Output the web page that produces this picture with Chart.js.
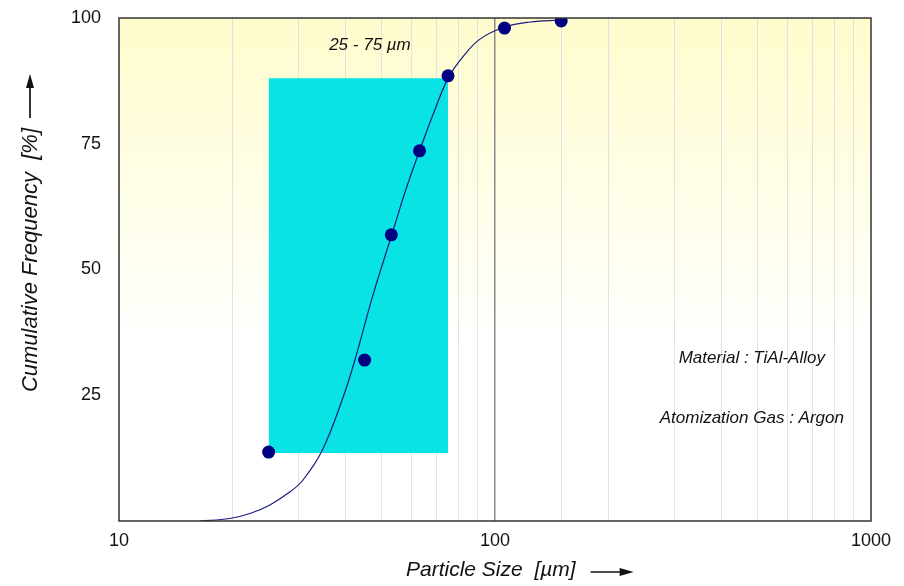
<!DOCTYPE html>
<html>
<head>
<meta charset="utf-8">
<script src="https://cdn.jsdelivr.net/npm/chart.js@4.4.1/dist/chart.umd.min.js"></script>
<style>
  html, body { margin: 0; padding: 0; background: #fff; }
  #wrap { width: 904px; height: 586px; }
</style>
</head>
<body>
<div id="wrap"><canvas id="psd" width="904" height="586"></canvas></div>
<script>
// measured points (particle size in um, cumulative %)
var sizeMeasured = [25, 45, 53, 63, 75, 106, 150];
var freqMeasured = [13.7, 32.0, 56.9, 73.6, 88.5, 98.0, 99.4];

// fitted curve
var sizeCurve = [16.4, 19.7, 22.3, 25.2, 28.5, 30.9, 34.7, 39.4, 42.4, 47.4, 53.2, 58, 63, 69, 75, 82.2, 91.2, 106, 124, 150];
var freqCurve = [0, 0.5, 1.5, 3.2, 5.8, 8.2, 14.0, 24.5, 32.0, 45.0, 57.0, 66.0, 73.6, 81.5, 88.0, 92.3, 95.8, 98.2, 99.2, 99.6];

// 25 - 75 um window
var bandSize = [25, 75];
var bandTop = [88, 88];
var bandBottom = [13.5, 13.5];

var xTicks = [10, 100, 1000];
var yTicks = [25, 50, 75, 100];

var notes = [
  { text: '25 - 75 \u00b5m', x: 46.5, y: 94.6 },
  { text: 'Material : TiAl-Alloy', x: 482, y: 32.4 },
  { text: 'Atomization Gas : Argon', x: 482, y: 20.5 }
];

function pairs(xs, ys) {
  return xs.map(function (x, i) { return { x: x, y: ys[i] }; });
}

var FONT = '"Liberation Sans", Arial, sans-serif';

/* background, frame, texts and axis arrows */
var decor = {
  id: 'decor',
  beforeDraw: function (chart) {
    var a = chart.chartArea, ctx = chart.ctx;
    var g = ctx.createLinearGradient(0, a.top, 0, a.bottom);
    g.addColorStop(0, 'rgb(255,252,204)');
    g.addColorStop(0.65, 'rgb(255,255,255)');
    g.addColorStop(1, 'rgb(255,255,255)');
    ctx.save();
    ctx.fillStyle = g;
    ctx.fillRect(a.left, a.top, a.right - a.left, a.bottom - a.top);
    ctx.restore();
  },
  afterDraw: function (chart) {
    var a = chart.chartArea, ctx = chart.ctx;
    var xs = chart.scales.x, ys = chart.scales.y;
    ctx.save();
    // frame
    ctx.strokeStyle = '#333';
    ctx.lineWidth = 1.5;
    ctx.strokeRect(a.left, a.top, a.right - a.left, a.bottom - a.top);

    // notes
    ctx.fillStyle = '#111';
    ctx.font = 'italic 17px ' + FONT;
    ctx.textAlign = 'center';
    ctx.textBaseline = 'middle';
    notes.forEach(function (n) {
      ctx.fillText(n.text, xs.getPixelForValue(n.x), ys.getPixelForValue(n.y));
    });

    // x title + arrow
    ctx.font = 'italic 21px ' + FONT;
    ctx.textAlign = 'left';
    var xt = 'Particle Size  [\u00b5m]';
    var w = ctx.measureText(xt).width;
    var x0 = 406, yy = 570;
    ctx.fillText(xt, x0, yy);
    arrow(ctx, x0 + w + 15, yy + 2, x0 + w + 58, yy + 2);

    // y title + arrow
    ctx.font = 'italic 22px ' + FONT;
    ctx.translate(31, 0);
    ctx.rotate(-Math.PI / 2);
    var yt = 'Cumulative Frequency  [%]';
    var w2 = ctx.measureText(yt).width;
    ctx.fillText(yt, -(128 + w2), 0);
    arrow(ctx, 118, -1, 74, -1, true);
    ctx.restore();
  }
};

function arrow(ctx, x1, y1, x2, y2, rotated) {
  if (rotated) { x1 = -x1; x2 = -x2; }
  ctx.save();
  ctx.strokeStyle = '#111';
  ctx.fillStyle = '#111';
  ctx.lineWidth = 1.7;
  ctx.beginPath();
  ctx.moveTo(x1, y1);
  ctx.lineTo(x2 - 10, y2);
  ctx.stroke();
  ctx.beginPath();
  ctx.moveTo(x2, y2);
  ctx.lineTo(x2 - 14, y2 - 4);
  ctx.lineTo(x2 - 14, y2 + 4);
  ctx.closePath();
  ctx.fill();
  ctx.restore();
}

new Chart(document.getElementById('psd'), {
  type: 'scatter',
  data: {
    datasets: [
      {
        label: 'measured',
        data: pairs(sizeMeasured, freqMeasured),
        pointRadius: 6.5,
        pointBackgroundColor: '#000080',
        pointBorderWidth: 0,
        order: 0
      },
      {
        label: 'fit',
        type: 'line',
        data: pairs(sizeCurve, freqCurve),
        borderColor: '#1a1a80',
        borderWidth: 1.2,
        pointRadius: 0,
        tension: 0.4,
        fill: false,
        order: 1
      },
      {
        label: 'band top',
        type: 'line',
        data: pairs(bandSize, bandTop),
        borderWidth: 0,
        pointRadius: 0,
        backgroundColor: 'rgba(0,226,228,0.96)',
        fill: '+1',
        order: 2
      },
      {
        label: 'band bottom',
        type: 'line',
        data: pairs(bandSize, bandBottom),
        borderWidth: 0,
        pointRadius: 0,
        fill: false,
        order: 3
      }
    ]
  },
  options: {
    responsive: false,
    animation: false,
    events: [],
    layout: { padding: { top: 18, right: 33, left: 0, bottom: 0 } },
    plugins: { legend: { display: false }, tooltip: { enabled: false } },
    scales: {
      x: {
        type: 'logarithmic',
        min: 10,
        max: 1000,
        afterFit: function (s) {
          s.height = 65;
          s.paddingLeft = 0;
          s.paddingRight = 0;
        },
        border: { display: false },
        grid: {
          drawTicks: false,
          color: function (c) {
            var v = c.tick && c.tick.value;
            if (v === 100) return '#8a8a8a';
            if (v === 10 || v === 1000) return 'rgba(0,0,0,0)';
            return '#e2e2e2';
          },
          lineWidth: function (c) { return c.tick && c.tick.value === 100 ? 1.5 : 1; }
        },
        ticks: {
          autoSkip: false,
          maxRotation: 0,
          padding: 9,
          color: '#111',
          font: { family: FONT, size: 18 },
          callback: function (v) { return xTicks.indexOf(v) >= 0 ? String(v) : ''; }
        }
      },
      y: {
        min: 0,
        max: 100,
        afterFit: function (s) {
          s.width = 119;
          s.paddingTop = 0;
          s.paddingBottom = 0;
        },
        afterBuildTicks: function (s) {
          s.ticks = yTicks.map(function (v) { return { value: v }; });
        },
        border: { display: false },
        grid: { display: false, drawTicks: false },
        ticks: {
          padding: 18,
          color: '#111',
          font: { family: FONT, size: 18 }
        }
      }
    }
  },
  plugins: [decor]
});
</script>
</body>
</html>
